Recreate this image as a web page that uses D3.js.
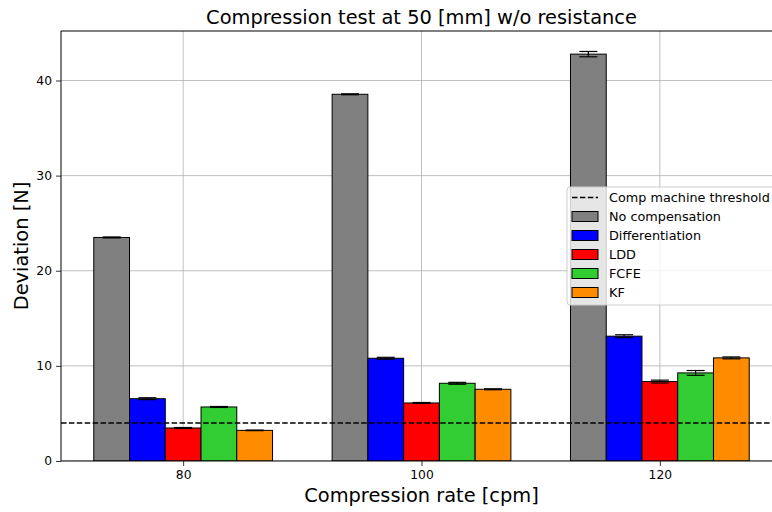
<!DOCTYPE html>
<html>
<head>
<meta charset="utf-8">
<script src="https://cdn.jsdelivr.net/npm/d3@7/dist/d3.min.js"></script>
<style>
  html, body { margin: 0; padding: 0; background: #fff; }
  svg { display: block; font-family: "DejaVu Sans", sans-serif; }
</style>
</head>
<body>
<svg id="chart" width="772" height="512"></svg>
<script>
// Compression rates tested (cpm)
const rates = ["80", "100", "120"];

// Compensation methods and their bar colours
const methods = ["No compensation", "Differentiation", "LDD", "FCFE", "KF"];
const colors = ["#808080", "#0000ff", "#ff0000", "#32cd32", "#ff8c00"];

// Mean deviation [N] per method, one value per compression rate
const noCompensation  = [23.5, 38.55, 42.77];
const differentiation = [6.55, 10.8, 13.12];
const ldd             = [3.47, 6.1, 8.35];
const fcfe            = [5.68, 8.17, 9.26];
const kf              = [3.22, 7.54, 10.84];

// Standard deviation [N] per method
const noCompensationErr  = [0.05, 0.05, 0.28];
const differentiationErr = [0.1, 0.1, 0.15];
const lddErr             = [0.05, 0.05, 0.15];
const fcfeErr            = [0.05, 0.1, 0.25];
const kfErr              = [0.03, 0.05, 0.1];

// Force limit of the compression machine
const threshold = 4.0;
const yTicks = [0, 10, 20, 30, 40];

const means = [noCompensation, differentiation, ldd, fcfe, kf];
const errs = [noCompensationErr, differentiationErr, lddErr, fcfeErr, kfErr];

const svg = d3.select("#chart");
const plotL = 61, plotT = 31, plotR = 782, plotB = 461;
const barW = 0.15;

const bars = [];
methods.forEach((m, j) => {
  rates.forEach((r, i) => {
    bars.push({ m, j, i, v: means[j][i], e: errs[j][i], x: i + (j - 2) * barW });
  });
});

const xMin = -2.5 * barW, xMax = rates.length - 1 + 2.5 * barW;
const xPad = (xMax - xMin) * 0.05;
const x = d3.scaleLinear().domain([xMin - xPad, xMax + xPad]).range([plotL, plotR]);

const yTop = d3.max(bars, d => d.v + d.e) * 1.05;
const y = d3.scaleLinear().domain([0, yTop]).range([plotB, plotT]);

svg.append("defs").append("clipPath").attr("id", "plotArea")
  .append("rect").attr("x", plotL).attr("y", plotT)
  .attr("width", plotR - plotL).attr("height", plotB - plotT);

// Grid
const grid = svg.append("g").attr("clip-path", "url(#plotArea)");
grid.selectAll("line.h").data(yTicks).join("line")
  .attr("x1", plotL).attr("x2", plotR)
  .attr("y1", d => y(d)).attr("y2", d => y(d))
  .attr("stroke", "#b0b0b0").attr("stroke-width", 0.8);
grid.selectAll("line.v").data(rates.map((r, i) => i)).join("line")
  .attr("y1", plotT).attr("y2", plotB)
  .attr("x1", d => x(d)).attr("x2", d => x(d))
  .attr("stroke", "#b0b0b0").attr("stroke-width", 0.8);

// Bars
const plot = svg.append("g").attr("clip-path", "url(#plotArea)");
plot.selectAll("rect.bar").data(bars).join("rect")
  .attr("class", "bar")
  .attr("x", d => x(d.x - barW / 2))
  .attr("width", d => x(d.x + barW / 2) - x(d.x - barW / 2))
  .attr("y", d => y(d.v))
  .attr("height", d => y(0) - y(d.v))
  .attr("fill", d => colors[d.j])
  .attr("stroke", "#000").attr("stroke-width", 1);

// Error bars
const cap = 9;
const eb = plot.selectAll("g.err").data(bars).join("g").attr("class", "err")
  .attr("stroke", "#000").attr("stroke-width", 1.2);
eb.append("line")
  .attr("x1", d => x(d.x)).attr("x2", d => x(d.x))
  .attr("y1", d => y(d.v - d.e)).attr("y2", d => y(d.v + d.e));
eb.append("line")
  .attr("x1", d => x(d.x) - cap).attr("x2", d => x(d.x) + cap)
  .attr("y1", d => y(d.v + d.e)).attr("y2", d => y(d.v + d.e));
eb.append("line")
  .attr("x1", d => x(d.x) - cap).attr("x2", d => x(d.x) + cap)
  .attr("y1", d => y(d.v - d.e)).attr("y2", d => y(d.v - d.e));

// Threshold line
plot.append("line")
  .attr("x1", plotL).attr("x2", plotR)
  .attr("y1", y(threshold)).attr("y2", y(threshold))
  .attr("stroke", "#000").attr("stroke-width", 1.5)
  .attr("stroke-dasharray", "5.5,2.4");

// Axes
const yAxis = svg.append("g").attr("transform", `translate(${plotL},0)`)
  .call(d3.axisLeft(y).tickValues(yTicks).tickSize(5).tickPadding(4));
const xAxis = svg.append("g").attr("transform", `translate(0,${plotB})`)
  .call(d3.axisBottom(x).tickValues(rates.map((r, i) => i)).tickFormat(i => rates[i]).tickSize(5).tickPadding(4));
[xAxis, yAxis].forEach(a => {
  a.select(".domain").remove();
  a.selectAll("text").attr("font-size", 12.3).attr("fill", "#000").attr("font-family", "DejaVu Sans");
  a.selectAll("line").attr("stroke", "#000").attr("stroke-width", 0.8);
});

// Spines
const spines = [
  [plotL, plotT, plotL, plotB], [plotL, plotB, plotR, plotB],
  [plotL, plotT, plotR, plotT], [plotR, plotT, plotR, plotB]
];
svg.selectAll("line.spine").data(spines).join("line").attr("class", "spine")
  .attr("x1", d => d[0]).attr("y1", d => d[1]).attr("x2", d => d[2]).attr("y2", d => d[3])
  .attr("stroke", "#000").attr("stroke-width", 1);

// Titles
const cx = (plotL + plotR) / 2;
svg.append("text").attr("x", cx).attr("y", 24).attr("text-anchor", "middle")
  .attr("font-size", 19.4).text("Compression test at 50 [mm] w/o resistance");
svg.append("text").attr("x", cx).attr("y", 502).attr("text-anchor", "middle")
  .attr("font-size", 19.4).text("Compression rate [cpm]");
svg.append("text").attr("transform", `translate(28,${(plotT + plotB) / 2}) rotate(-90)`)
  .attr("text-anchor", "middle").attr("font-size", 19.4).text("Deviation [N]");

// Legend
const lg = svg.append("g").attr("transform", "translate(567,187)");
lg.append("rect").attr("x", 0).attr("y", 0).attr("width", 222).attr("height", 118)
  .attr("rx", 3).attr("fill", "#fff").attr("fill-opacity", 0.8)
  .attr("stroke", "#cccccc").attr("stroke-width", 1);
const rowY = i => 10.5 + i * 19;
lg.append("line").attr("x1", 5).attr("x2", 31).attr("y1", rowY(0)).attr("y2", rowY(0))
  .attr("stroke", "#000").attr("stroke-width", 1.5).attr("stroke-dasharray", "5.5,2.4");
lg.append("text").attr("x", 42).attr("y", rowY(0) + 4.5).attr("font-size", 12.8)
  .text("Comp machine threshold");
methods.forEach((m, j) => {
  const yy = rowY(j + 1);
  lg.append("rect").attr("x", 5).attr("y", yy - 5).attr("width", 26).attr("height", 10)
    .attr("fill", colors[j]).attr("stroke", "#000").attr("stroke-width", 1);
  lg.append("text").attr("x", 42).attr("y", yy + 4.5).attr("font-size", 12.8).text(m);
});
</script>
</body>
</html>
